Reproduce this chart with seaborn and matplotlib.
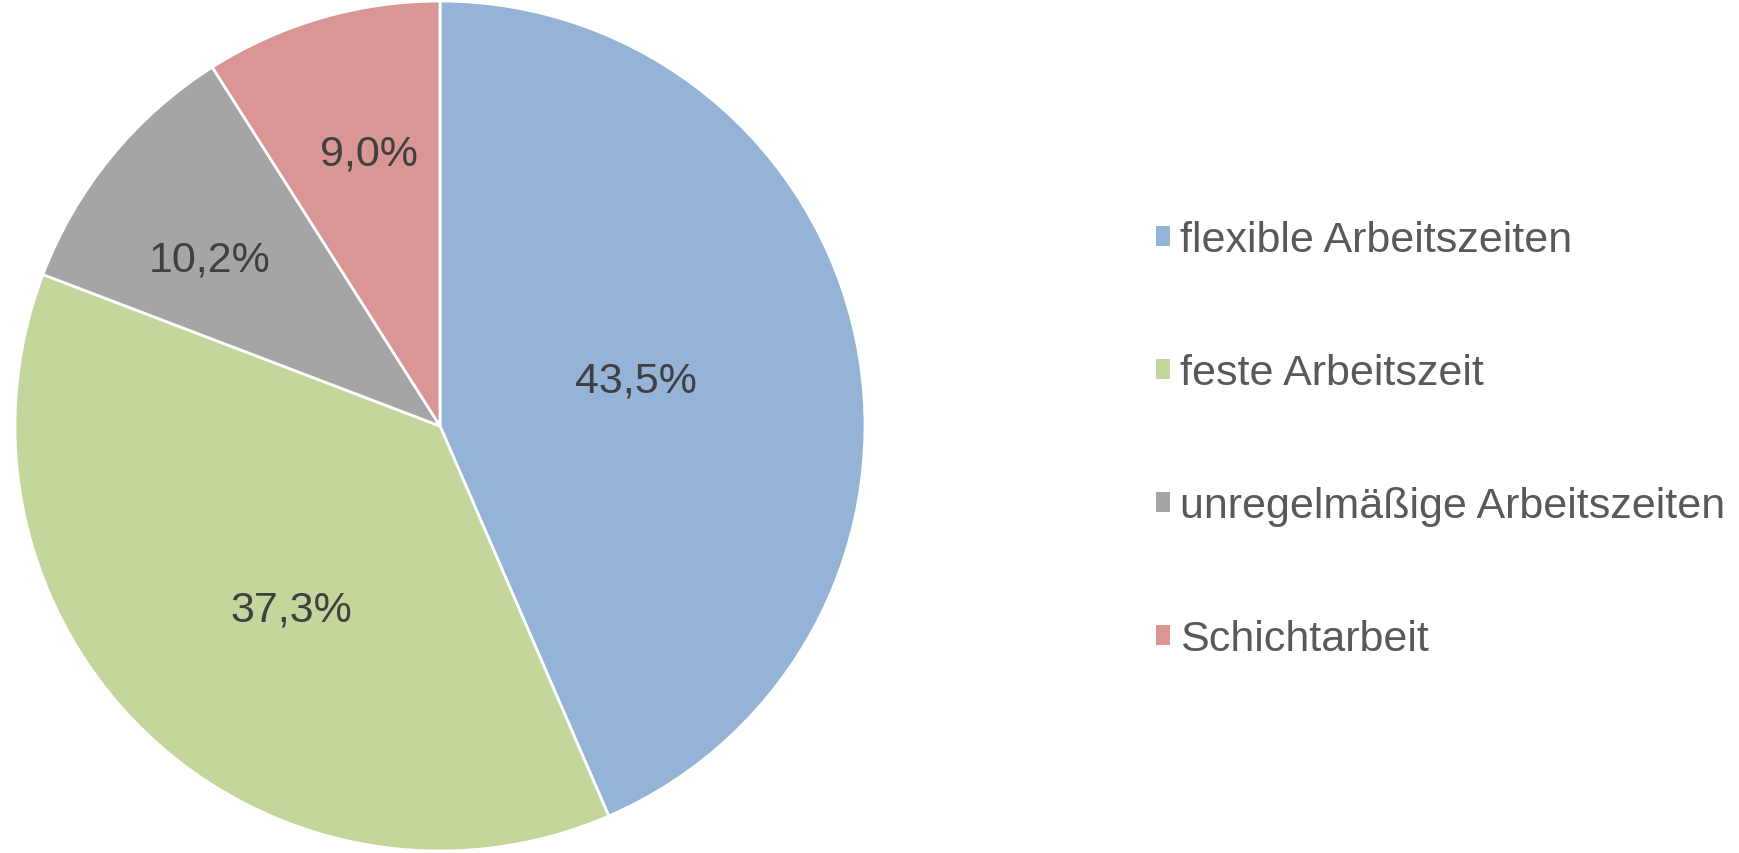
import matplotlib
matplotlib.use('Agg')
import matplotlib.pyplot as plt
import matplotlib.transforms as mtransforms
import numpy as np
import seaborn as sns

# ====================================
# DATA
# ====================================

categories = [
    'flexible Arbeitszeiten',
    'feste Arbeitszeit',
    'unregelmäßige Arbeitszeiten',
    'Schichtarbeit'
]

shares = [43.5, 37.3, 10.2, 9.0]

value_labels = ['43,5%', '37,3%', '10,2%', '9,0%']

# label placement per slice: distance from centre (fraction of radius)
# and a small angle nudge (degrees) off the slice middle
label_radius = [0.475, 0.546, 0.676, 0.674]
label_nudge = [2.6, 3.9, 2.5, -1.8]

colors = sns.color_palette(['#95B3D7', '#C3D69B', '#A5A5A5', '#D99694'])

# ====================================
# STYLE
# ====================================

sns.set_theme(style='white')
plt.rcParams['font.family'] = ['Liberation Sans', 'DejaVu Sans']

fig = plt.figure(figsize=(17.39, 8.54), dpi=100)

ax = fig.add_axes([15 / 1739, 2 / 854, 850 / 1739, 850 / 854])

wedges, _ = ax.pie(
    shares,
    colors=colors,
    startangle=90,
    counterclock=False,
    wedgeprops=dict(edgecolor='white', linewidth=2)
)

ax.set_xlim(-1.0, 1.0)
ax.set_ylim(-1.0, 1.0)
ax.set_aspect('equal')

# value labels inside slices (shifted a touch down, like the original)
label_trans = mtransforms.offset_copy(ax.transData, fig=fig, x=0, y=-3.5, units='points')

for w, txt, r, nudge in zip(wedges, value_labels, label_radius, label_nudge):
    mid = np.deg2rad((w.theta1 + w.theta2) / 2 + nudge)
    ax.text(
        r * np.cos(mid), r * np.sin(mid), txt,
        ha='center', va='center',
        fontsize=31, color='#404040',
        transform=label_trans
    )

# ====================================
# LEGEND
# ====================================

leg = fig.legend(
    wedges, categories,
    loc='center left',
    bbox_to_anchor=(1117 / 1739, 0.484),
    frameon=False,
    fontsize=31,
    handlelength=0.34,
    handleheight=0.34,
    handletextpad=0.22,
    labelspacing=2.16
)

for t in leg.get_texts():
    t.set_color('#595959')

for h in leg.legend_handles:
    h.set_edgecolor('none')

fig.savefig('out.png', dpi=100, facecolor='white')
plt.close()
